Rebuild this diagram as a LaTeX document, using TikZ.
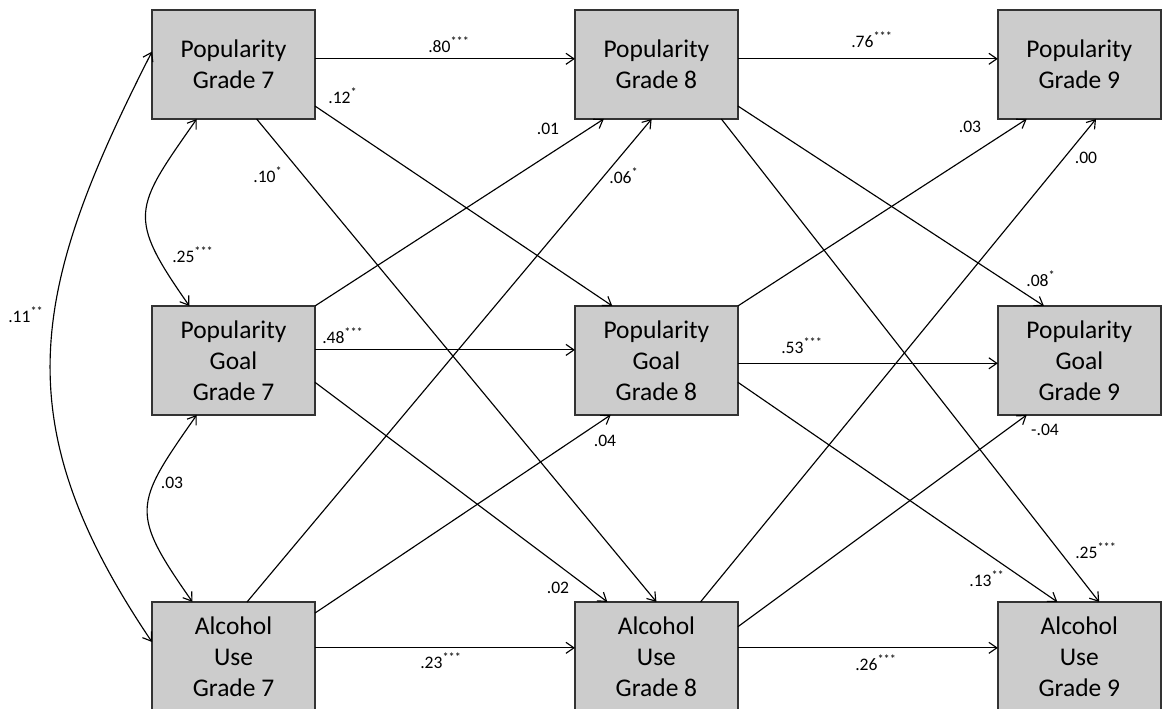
\documentclass[tikz,border=0pt]{standalone}
\usepackage{fontspec}
\setmainfont{Carlito}
\usepackage{tikz}
\usetikzlibrary{arrows.meta,positioning}

\begin{document}
\begin{tikzpicture}[
    x=0.02cm, y=-0.02cm,
    node distance=3.74cm and 5.2cm,
    box/.style={draw=black!80, line width=0.8pt, fill=gray!40, align=center, minimum width=3.26cm, minimum height=2.18cm, inner sep=2pt, outer sep=0pt, font=\fontsize{14.5}{17.6}\selectfont},
    coef/.style={anchor=base, inner sep=0pt, font=\fontsize{10}{12}\selectfont},
    arrow/.style={-{Straight Barb[length=1.6mm, width=2.2mm]}, line width=0.65pt},
    cov/.style={{Straight Barb[length=1.6mm, width=2.2mm]}-{Straight Barb[length=1.6mm, width=2.2mm]}, line width=0.65pt}
  ]
    \useasboundingbox (0,0) rectangle (1163,708);

    \node[box] (p7) at (233.5,64.5) {Popularity\\Grade 7};
    \node[box, right=of p7] (p8) {Popularity\\Grade 8};
    \node[box, right=of p8] (p9) {Popularity\\Grade 9};
    \node[box, below=of p7] (g7) {Popularity\\Goal\\Grade 7};
    \node[box, below=of p8] (g8) {Popularity\\Goal\\Grade 8};
    \node[box, below=of p9] (g9) {Popularity\\Goal\\Grade 9};
    \node[box, below=of g7] (a7) {Alcohol\\Use\\Grade 7};
    \node[box, below=of g8] (a8) {Alcohol\\Use\\Grade 8};
    \node[box, below=of g9] (a9) {Alcohol\\Use\\Grade 9};

    \draw[arrow] (p7.4) -- (p8.176);
    \draw[arrow] (p8.4) -- (p9.176);
    \draw[arrow] ([yshift=6pt]g7.east) -- ([yshift=6pt]g8.west);
    \draw[arrow] (g8.-2) -- (g9.182);
    \draw[arrow] (a7.6) -- (a8.174);
    \draw[arrow] (a8.6) -- (a9.174);

    \draw[arrow] (p7.-27) -- (g8.129);
    \draw[arrow] (p7.-67) -- (a8.90);
    \draw[arrow] (g7.north east) -- (p8.-134);
    \draw[arrow] (g7.-15) -- (a8.132);
    \draw[arrow] (a7.76) -- (p8.-95);
    \draw[arrow] (a7.28) -- (g8.-130);
    \draw[arrow] (p8.-27) -- (g9.123);
    \draw[arrow] (p8.-40) -- (a9.70);
    \draw[arrow] (g8.north east) -- (p9.-134);
    \draw[arrow] (g8.-15) -- (a9.112);
    \draw[arrow] (a8.51) -- (p9.-73);
    \draw[arrow] (a8.20) -- (g9.-134);

    \draw[cov] (p7.-124) to[out=235, in=125, looseness=1.5] (g7.129);
    \draw[cov] (g7.-124) to[out=235, in=125, looseness=1.5] (a7.127);
    \draw[cov] (p7.171) to[out=243, in=124, looseness=1.16] (a7.170);

    \node[coef] (p7p8) at (449,52) {.80\textsuperscript{***}};
    \node[coef] (p8p9) at (872,47) {.76\textsuperscript{***}};
    \node[coef] (g7g8) at (343,343) {.48\textsuperscript{***}};
    \node[coef] (g8g9) at (802,353) {.53\textsuperscript{***}};
    \node[coef] (a7a8) at (441,668) {.23\textsuperscript{***}};
    \node[coef] (a8a9) at (876,670) {.26\textsuperscript{***}};
    \node[coef] (p7g8) at (343,103) {.12\textsuperscript{*}};
    \node[coef] (p7a8) at (268,182) {.10\textsuperscript{*}};
    \node[coef] (g7p8) at (548,134) {.01};
    \node[coef] (g7a8) at (558,593) {.02};
    \node[coef] (a7p8) at (624,183) {.06\textsuperscript{*}};
    \node[coef] (a7g8) at (605,446) {.04};
    \node[coef] (p8g9) at (1041,286) {.08\textsuperscript{*}};
    \node[coef] (p8a9) at (1096,558) {.25\textsuperscript{***}};
    \node[coef] (g8p9) at (970,132) {.03};
    \node[coef] (g8a9) at (987,586) {.13\textsuperscript{**}};
    \node[coef] (a8p9) at (1086,163) {.00};
    \node[coef] (a8g9) at (1045,435) {-.04};
    \node[coef] (p7g7) at (193,262) {.25\textsuperscript{***}};
    \node[coef] (g7a7) at (172,488) {.03};
    \node[coef] (p7a7) at (26,322) {.11\textsuperscript{**}};
  \end{tikzpicture}
\end{document}
